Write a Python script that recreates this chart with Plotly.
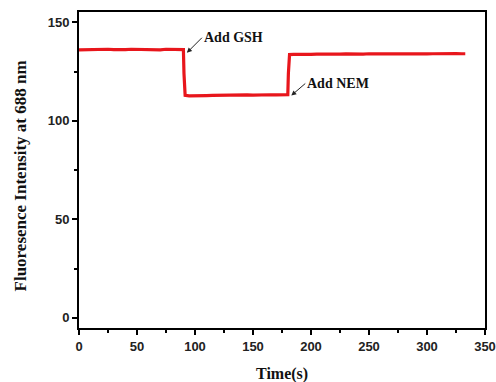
import plotly.graph_objects as go

time_s = [0, 5, 10, 15, 20, 25, 30, 35, 40, 45, 50, 55, 60, 65, 70, 75, 80, 85, 90,
          90.5, 91.5, 95, 100, 105, 110, 115, 120, 125, 130, 135, 140, 145, 150, 155, 160, 165, 170, 175, 180,
          180.5, 181.5, 185, 190, 195, 200, 205, 210, 215, 220, 225, 230, 235, 240, 245, 250, 255, 260, 265,
          270, 275, 280, 285, 290, 295, 300, 305, 310, 315, 320, 325, 330, 333]
intensity = [136.0, 136.1, 136.0, 135.9, 136.2, 136.3, 136.1, 136.0, 136.1, 136.3, 136.2, 136.0, 136.1,
             136.2, 136.0, 136.3, 136.2, 136.0, 136.1,
             124.0, 112.9, 112.6, 112.8, 112.9, 112.8, 112.9, 113.0, 112.9, 113.0, 113.1, 113.0, 113.1,
             113.0, 113.2, 113.1, 113.2, 113.1, 113.3, 113.2,
             124.0, 133.6, 133.7, 133.6, 133.8, 133.7, 133.8, 133.7, 133.9, 133.8, 133.8, 133.9, 133.8,
             133.9, 133.8, 134.0, 133.9, 133.8, 133.9, 134.0, 133.9, 134.0, 133.9, 134.0, 134.0, 133.9,
             134.0, 134.1, 134.0, 134.0, 134.1, 134.0, 134.0]

events = ["Add GSH", "Add NEM"]
event_x = [93, 183]
event_y = [134.5, 112.8]

fig = go.Figure()
fig.add_trace(go.Scatter(x=time_s, y=intensity, mode="lines",
                         line=dict(color="#e8161c", width=3.2), showlegend=False))

for txt, ex, ey, ax, ay in zip(events, event_x, event_y, [15, 14], [-15, -12]):
    fig.add_annotation(x=ex, y=ey, ax=ax, ay=ay, axref="pixel", ayref="pixel",
                       text="<b>" + txt + "</b>", showarrow=True, arrowhead=2, arrowsize=1,
                       arrowwidth=1, arrowcolor="#222", xanchor="left", yanchor="middle",
                       font=dict(family="Liberation Serif", size=14, color="#111"),
                       standoff=0, startstandoff=0)

fig.add_annotation(x=0.5, y=-0.146, xref="paper", yref="paper", showarrow=False,
                   text="<b>Time(s)</b>", xanchor="center", yanchor="middle",
                   font=dict(family="Liberation Serif", size=16, color="#111"))
fig.add_annotation(x=-0.145, y=0.48, xref="paper", yref="paper", showarrow=False, textangle=-90,
                   text="<b>Fluoresence Intensity at 688 nm</b>", xanchor="center", yanchor="middle",
                   font=dict(family="Liberation Serif", size=17, color="#111"))

axis_common = dict(showline=True, linecolor="black", linewidth=2, mirror=True,
                   ticks="outside", ticklen=5, tickwidth=2, tickcolor="black",
                   showgrid=False, zeroline=False, automargin=False,
                   tickfont=dict(family="Liberation Sans", size=13, color="#222"))

fig.update_xaxes(range=[0, 350], tickvals=[0, 50, 100, 150, 200, 250, 300, 350],
                 ticktext=["<b>%d</b>" % v for v in [0, 50, 100, 150, 200, 250, 300, 350]],
                 minor=dict(ticks="outside", ticklen=3, tickwidth=1.5, tickcolor="black", dtick=25, tick0=0),
                 **axis_common)
fig.update_yaxes(range=[-5.2, 155.2], tickvals=[0, 50, 100, 150],
                 ticktext=["<b>%d</b>" % v for v in [0, 50, 100, 150]],
                 minor=dict(ticks="outside", ticklen=3, tickwidth=1.5, tickcolor="black", dtick=25, tick0=0),
                 **axis_common)

fig.update_layout(width=496, height=382, margin=dict(l=79, r=11, t=12, b=54),
                  plot_bgcolor="white", paper_bgcolor="white")
fig.write_html("out.html")
